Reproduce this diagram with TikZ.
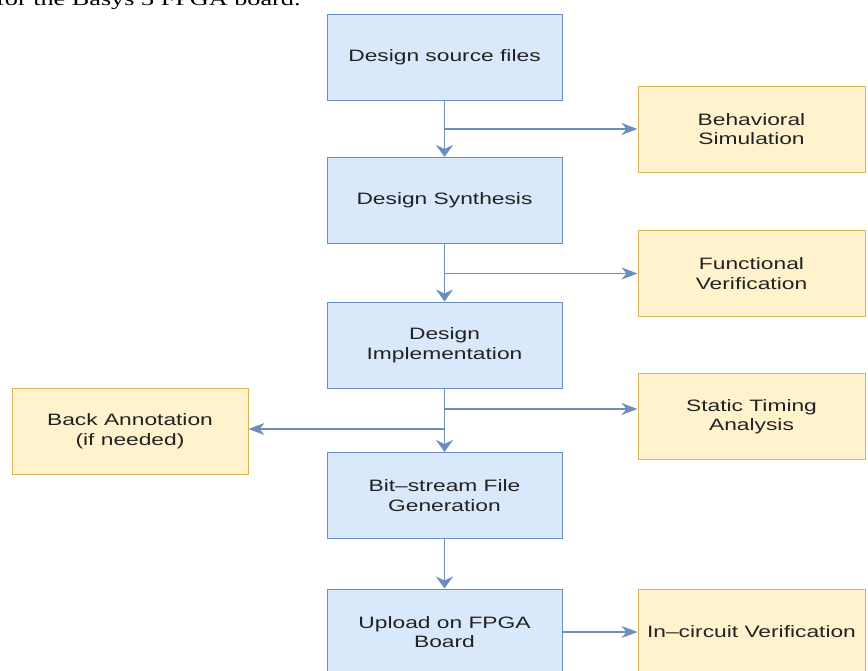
\documentclass[tikz,border=0pt]{standalone}
\usepackage{fontspec}
\setmainfont{Liberation Sans}[FakeStretch=1.38]
\newfontfamily\topserif{Liberation Serif}[FakeStretch=1.38]
\usetikzlibrary{arrows.meta}
\definecolor{bfill}{HTML}{DAE8FC}
\definecolor{bdraw}{HTML}{6C8EBF}
\definecolor{yfill}{HTML}{FFF2CC}
\definecolor{ydraw}{HTML}{D6B656}
\definecolor{arr}{HTML}{6C8EBF}
\definecolor{txt}{HTML}{222222}
\begin{document}
\begin{tikzpicture}[x=1pt,y=-1pt,
  base/.style={rectangle, draw, line width=1pt, align=center, inner sep=0pt,
    font=\fontsize{16.5}{19.5}\selectfont, text=txt},
  bluebox/.style={base, fill=bfill, draw=bdraw, minimum width=235pt, minimum height=86pt},
  yelbox/.style={base, fill=yfill, draw=ydraw, minimum width=227pt, minimum height=86pt},
  flowdown/.style={draw=arr, line width=1.6pt, -{Stealth[length=12pt,width=17pt,inset=4pt]}},
  flowside/.style={draw=arr, line width=1.5pt, -{Stealth[length=16pt,width=12pt,inset=5pt]}}]
\useasboundingbox (0,0) rectangle (868,670);
\clip (0,0) rectangle (868,670);
\fill[white] (0,0) rectangle (868,670);

\node[anchor=base west, inner sep=0pt, font=\topserif\fontsize{19}{22}\selectfont, text=black] (cap) at (-4,5) {for the Basys 3 FPGA board.};

\node[bluebox] (b1) at (444.5,57.5) {Design source files};
\node[bluebox] (b2) at (444.5,200.5) {Design Synthesis};
\node[bluebox] (b3) at (444.5,345) {Design\\Implementation};
\node[bluebox] (b4) at (444.5,495.5) {Bit–stream File\\Generation};
\node[bluebox] (b5) at (444.5,632) {Upload on FPGA\\Board};

\node[yelbox] (beh) at (751.5,129) {Behavioral\\Simulation};
\node[yelbox] (fun) at (751.5,273.5) {Functional\\Verification};
\node[yelbox] (sta) at (751.5,416.5) {Static Timing\\Analysis};
\node[yelbox] (inc) at (751.5,632) {In–circuit Verification};
\node[yelbox, minimum width=236pt] (back) at (130,431) {Back Annotation\\(if needed)};

\coordinate (j1) at (444.5,129);
\coordinate (j2) at (444.5,273.5);
\coordinate (j3) at (444.5,409);
\coordinate (j4) at (444.5,429);

\draw[flowdown] (b1.south) -- (b2.north);
\draw[flowdown] (b2.south) -- (b3.north);
\draw[flowdown] (b3.south) -- (b4.north);
\draw[flowdown] (b4.south) -- (b5.north);
\draw[flowside] (j1) -- (beh.west);
\draw[flowside] (j2) -- (fun.west);
\draw[flowside] (j3) -- (sta.west |- j3);
\draw[flowside] (j4) -- (back.east |- j4);
\draw[flowside] (b5.east) -- (inc.west);
\end{tikzpicture}
\end{document}
